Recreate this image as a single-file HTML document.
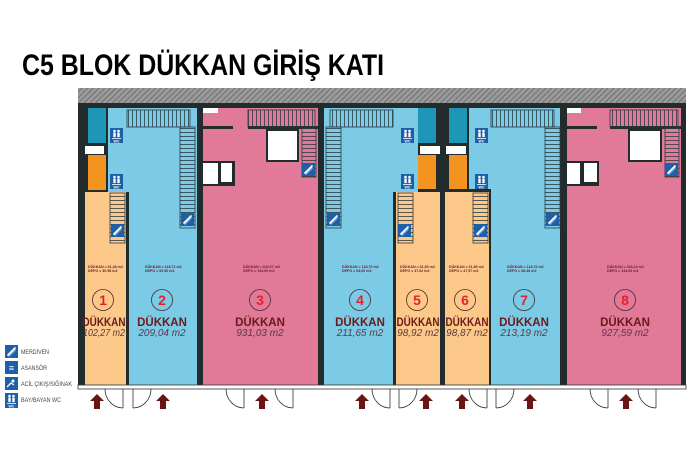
<!DOCTYPE html>
<html><head><meta charset="utf-8"><style>
html,body{margin:0;padding:0;background:#fff;width:700px;height:466px;overflow:hidden}
svg{display:block}
</style></head><body>
<svg width="700" height="466" viewBox="0 0 700 466" xmlns="http://www.w3.org/2000/svg" font-family="Liberation Sans, DejaVu Sans, sans-serif">
<defs>
<pattern id="hatch" width="4" height="4" patternUnits="userSpaceOnUse" patternTransform="rotate(45)">
<rect width="4" height="4" fill="#9a9a9a"/><line x1="0" y1="0" x2="0" y2="4" stroke="#555" stroke-width="1.2"/>
</pattern>
<pattern id="stairV" width="15" height="4" patternUnits="userSpaceOnUse">
<rect width="15" height="4" fill="none"/><line x1="0" y1="0.5" x2="15" y2="0.5" stroke="#2a3a40" stroke-width="0.8"/>
</pattern>
<pattern id="stairH" width="4" height="17" patternUnits="userSpaceOnUse">
<line x1="0.5" y1="0" x2="0.5" y2="17" stroke="#2a3a40" stroke-width="0.8"/>
</pattern>
<g id="stair"><rect width="13" height="13" fill="#1d5fa8"/><path d="M2.5 10.5 L10.5 2.5" stroke="#fff" stroke-width="1.6"/><path d="M3 11h2v-2h2v-2h2v-2h2" stroke="#fff" stroke-width="0.6" fill="none"/></g>
<g id="wc"><rect width="13" height="15" fill="#1d5fa8"/><circle cx="4.5" cy="3" r="1.3" fill="#fff"/><circle cx="8.5" cy="3" r="1.3" fill="#fff"/><rect x="3.3" y="4.6" width="2.4" height="4.5" fill="#fff"/><rect x="7.3" y="4.6" width="2.4" height="4.5" fill="#fff"/><rect x="2" y="10" width="9" height="0.8" fill="#fff"/><text x="6.5" y="14.3" font-size="3.6" fill="#fff" text-anchor="middle" font-weight="bold">WC</text></g>
</defs>

<text x="22" y="75" font-size="30" font-weight="bold" fill="#000" textLength="362" lengthAdjust="spacingAndGlyphs">C5 BLOK DÜKKAN GİRİŞ KATI</text>

<rect x="78" y="88" width="608" height="15" fill="url(#hatch)"/>
<rect x="78" y="103" width="608" height="286" fill="#222c2c"/>

<rect x="88" y="108" width="18" height="35" fill="#1e96b8"/>
<rect x="85" y="146" width="19" height="8" fill="#fff"/>
<rect x="88" y="155" width="18" height="35" fill="#f39420"/>
<rect x="108" y="108" width="89" height="84" fill="#7ccbe6"/>
<rect x="129" y="108" width="68" height="277" fill="#7ccbe6"/>
<rect x="85" y="192" width="41" height="193" fill="#fdc98a"/>
<rect x="203" y="108" width="115" height="277" fill="#e07a98"/>
<rect x="203" y="108" width="15" height="5" fill="#fff"/>
<rect x="248" y="126" width="70" height="3" fill="#222c2c"/>
<rect x="203" y="126" width="30" height="3" fill="#222c2c"/>
<rect x="266" y="129" width="33" height="33" fill="#222c2c"/><rect x="268" y="131" width="29" height="29" fill="#fff"/>
<rect x="203" y="161" width="32" height="25" fill="#222c2c"/><rect x="203" y="163" width="15" height="21" fill="#fff"/><rect x="221" y="163" width="11" height="19" fill="#fff"/>
<rect x="324" y="108" width="94" height="84" fill="#7ccbe6"/>
<rect x="324" y="108" width="69" height="277" fill="#7ccbe6"/>
<rect x="418" y="108" width="18" height="35" fill="#1e96b8"/>
<rect x="449" y="108" width="18" height="35" fill="#1e96b8"/>
<rect x="420" y="146" width="20" height="8" fill="#fff"/>
<rect x="446" y="146" width="20" height="8" fill="#fff"/>
<rect x="418" y="155" width="18" height="34" fill="#f39420"/>
<rect x="449" y="155" width="18" height="34" fill="#f39420"/>
<rect x="396" y="192" width="44" height="193" fill="#fdc98a"/>
<rect x="445" y="192" width="44" height="193" fill="#fdc98a"/>
<rect x="469" y="108" width="91" height="81" fill="#7ccbe6"/>
<rect x="491" y="108" width="69" height="277" fill="#7ccbe6"/>
<rect x="567" y="108" width="114" height="277" fill="#e07a98"/>
<rect x="567" y="108" width="14" height="5" fill="#fff"/>
<rect x="610" y="126" width="71" height="3" fill="#222c2c"/>
<rect x="567" y="126" width="30" height="3" fill="#222c2c"/>
<rect x="628" y="129" width="34" height="33" fill="#222c2c"/><rect x="630" y="131" width="30" height="29" fill="#fff"/>
<rect x="567" y="161" width="32" height="25" fill="#222c2c"/><rect x="567" y="163" width="13" height="21" fill="#fff"/><rect x="584" y="163" width="13" height="19" fill="#fff"/>

<g fill="url(#stairH)" stroke="#2a3a40" stroke-width="0.8">
<rect x="127" y="110" width="63" height="17"/><rect x="330" y="110" width="63" height="17"/>
<rect x="491" y="110" width="63" height="17"/><rect x="248" y="110" width="67" height="17"/><rect x="610" y="110" width="68" height="17"/>
</g>
<g fill="url(#stairV)" stroke="#2a3a40" stroke-width="0.8">
<rect x="180" y="127" width="15" height="101"/><rect x="326" y="127" width="15" height="101"/><rect x="545" y="127" width="15" height="101"/>
<rect x="302" y="127" width="14" height="50"/><rect x="665" y="127" width="14" height="50"/>
<rect x="110" y="193" width="15" height="50"/><rect x="398" y="193" width="15" height="50"/><rect x="473" y="193" width="15" height="50"/>
</g>
<use href="#stair" x="181" y="213"/><use href="#stair" x="327" y="213"/><use href="#stair" x="546" y="213"/>
<use href="#stair" x="302" y="163"/><use href="#stair" x="665" y="163"/>
<use href="#stair" x="111" y="224"/><use href="#stair" x="398" y="224"/><use href="#stair" x="474" y="224"/>
<use href="#wc" x="110" y="128"/><use href="#wc" x="110" y="174"/>
<use href="#wc" x="401" y="128"/><use href="#wc" x="401" y="174"/>
<use href="#wc" x="475" y="128"/><use href="#wc" x="475" y="174"/>

<g fill="#222c2c">
<rect x="78" y="260" width="7" height="125"/><rect x="126" y="260" width="3" height="125"/>
</g>

<g font-size="3.6" fill="#6b1a2a" font-weight="bold">
<text x="88" y="268">DÜKKAN = 61,48 m2</text><text x="88" y="272">DEPO = 30,58 m2</text>
<text x="145" y="268">DÜKKAN = 118,72 m2</text><text x="145" y="272">DEPO = 60,60 m2</text>
<text x="243" y="268">DÜKKAN = 344,07 m2</text><text x="243" y="272">DEPO = 144,00 m2</text>
<text x="342" y="268">DÜKKAN = 118,70 m2</text><text x="342" y="272">DEPO = 64,66 m2</text>
<text x="400" y="268">DÜKKAN = 61,80 m2</text><text x="400" y="272">DEPO = 47,62 m2</text>
<text x="449" y="268">DÜKKAN = 61,80 m2</text><text x="449" y="272">DEPO = 47,57 m2</text>
<text x="507" y="268">DÜKKAN = 118,70 m2</text><text x="507" y="272">DEPO = 68,48 m2</text>
<text x="607" y="268">DÜKKAN = 343,24 m2</text><text x="607" y="272">DEPO = 144,00 m2</text>
</g>

<g text-anchor="middle">
<g fill="none" stroke="#4a2a2a" stroke-width="0.8">
<circle cx="103" cy="300" r="10.5"/><circle cx="162" cy="300" r="10.5"/><circle cx="260" cy="300" r="10.5"/><circle cx="360" cy="300" r="10.5"/>
<circle cx="417" cy="300" r="10.5"/><circle cx="465" cy="300" r="10.5"/><circle cx="524" cy="300" r="10.5"/><circle cx="625" cy="300" r="10.5"/>
</g>
<g font-size="14" font-weight="bold" fill="#e8202a">
<text x="103" y="305">1</text><text x="162" y="305">2</text><text x="260" y="305">3</text><text x="360" y="305">4</text>
<text x="417" y="305">5</text><text x="465" y="305">6</text><text x="524" y="305">7</text><text x="625" y="305">8</text>
</g>
<g font-size="11.5" font-weight="bold" fill="#6b1a1a">
<text x="104" y="326" textLength="43" lengthAdjust="spacingAndGlyphs">DÜKKAN</text>
<text x="162" y="326">DÜKKAN</text><text x="260" y="326">DÜKKAN</text><text x="360" y="326">DÜKKAN</text>
<text x="418" y="326" textLength="43" lengthAdjust="spacingAndGlyphs">DÜKKAN</text>
<text x="467" y="326" textLength="43" lengthAdjust="spacingAndGlyphs">DÜKKAN</text>
<text x="524" y="326">DÜKKAN</text><text x="625" y="326">DÜKKAN</text>
</g>
<g font-size="10" font-style="italic" fill="#5a3844">
<text x="104" y="336" textLength="42" lengthAdjust="spacingAndGlyphs">102,27 m2</text>
<text x="162" y="336">209,04 m2</text><text x="260" y="336">931,03 m2</text><text x="360" y="336">211,65 m2</text>
<text x="418" y="336">98,92 m2</text><text x="467" y="336">98,87 m2</text><text x="524" y="336">213,19 m2</text><text x="625" y="336">927,59 m2</text>
</g>
</g>

<rect x="78" y="385" width="608" height="4" fill="#fff" stroke="#333" stroke-width="0.8"/>
<g fill="none" stroke="#333" stroke-width="0.8">
<path d="M123 389 V408 M105 389 A18 19 0 0 0 123 408"/>
<path d="M133 389 V408 M151 389 A18 19 0 0 1 133 408"/>
<path d="M244 389 V408 M226 389 A18 19 0 0 0 244 408"/>
<path d="M293 389 V408 M275 389 A18 19 0 0 0 293 408"/>
<path d="M390 389 V408 M372 389 A18 19 0 0 0 390 408"/>
<path d="M399 389 V408 M417 389 A18 19 0 0 1 399 408"/>
<path d="M487 389 V408 M469 389 A18 19 0 0 0 487 408"/>
<path d="M496 389 V408 M514 389 A18 19 0 0 1 496 408"/>
<path d="M608 389 V408 M590 389 A18 19 0 0 0 608 408"/>
<path d="M656 389 V408 M638 389 A18 19 0 0 0 656 408"/>
</g>
<g fill="#6b1414">
<path d="M97 394 l7 7 h-4 v8 h-6 v-8 h-4z"/>
<path d="M163 394 l7 7 h-4 v8 h-6 v-8 h-4z"/>
<path d="M262 394 l7 7 h-4 v8 h-6 v-8 h-4z"/>
<path d="M362 394 l7 7 h-4 v8 h-6 v-8 h-4z"/>
<path d="M426 394 l7 7 h-4 v8 h-6 v-8 h-4z"/>
<path d="M462 394 l7 7 h-4 v8 h-6 v-8 h-4z"/>
<path d="M530 394 l7 7 h-4 v8 h-6 v-8 h-4z"/>
<path d="M626 394 l7 7 h-4 v8 h-6 v-8 h-4z"/>
</g>

<use href="#stair" x="5" y="345"/>
<rect x="5" y="361" width="13" height="13" fill="#1d5fa8"/><text x="11.5" y="371" font-size="9" fill="#fff" text-anchor="middle" font-weight="bold">≡</text>
<rect x="5" y="377" width="13" height="13" fill="#1d5fa8"/><circle cx="13" cy="381" r="1.5" fill="#fff"/><path d="M7 387 l4 -4 l3 2" stroke="#fff" stroke-width="1.3" fill="none"/>
<use href="#wc" x="5" y="393"/>
<g font-size="6" fill="#444">
<text x="21" y="354" textLength="28" lengthAdjust="spacingAndGlyphs">MERDİVEN</text>
<text x="21" y="370" textLength="26" lengthAdjust="spacingAndGlyphs">ASANSÖR</text>
<text x="21" y="386" textLength="51" lengthAdjust="spacingAndGlyphs">ACİL ÇIKIŞ/SIĞINAK</text>
<text x="21" y="402" textLength="40" lengthAdjust="spacingAndGlyphs">BAY/BAYAN WC</text>
</g>
</svg>
</body></html>
